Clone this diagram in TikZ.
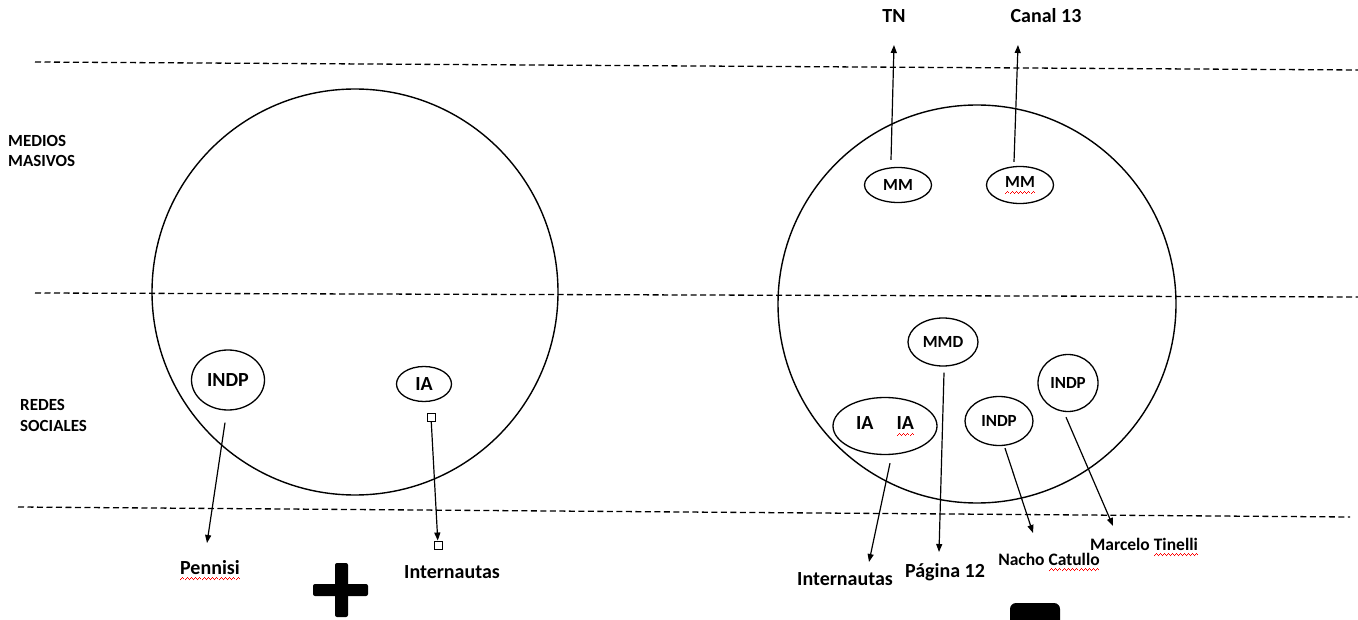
\documentclass[tikz,border=0pt]{standalone}
\usepackage{fontspec}
\setmainfont{Carlito}
\usetikzlibrary{shapes.geometric,arrows.meta}
\newcommand\wv{\rule[-6.4pt]{1pt}{1pt}\rule[-5.4pt]{1pt}{1pt}\rule[-4.4pt]{1pt}{1pt}\rule[-5.4pt]{1pt}{1pt}}
\newcommand\wavy[1]{\setbox0\hbox{#1}\rlap{\textcolor{red}{\hbox to\wd0{\xleaders\hbox{\wv}\hfil}}}\box0}
\tikzset{
  ell/.style={draw, ellipse, inner sep=0pt, line width=1.3pt, font=\bfseries\fontsize{17}{20}\selectfont},
  lbl/.style={inner sep=0pt, anchor=base, font=\bfseries\fontsize{20}{24}\selectfont},
  arr/.style={line width=1.2pt, -{Triangle[length=8pt,width=6pt]}},
  dline/.style={line width=1.3pt, dash pattern=on 6pt off 3.5pt},
  sq/.style={draw, fill=white, line width=0.9pt, minimum size=8pt, inner sep=0pt}
}
\begin{document}
\begin{tikzpicture}[x=1pt,y=-1pt]
	\useasboundingbox (0,0) rectangle (1358,620);
	\clip (0,0) rectangle (1358,620);
	% niveles
	\draw[dline] (35,62) -- (1358,70);
	\draw[dline] (35,293) -- (1358,297);
	\draw[dline] (18,507) -- (1350,517);
	\node[lbl, anchor=north west, align=left, font=\bfseries\fontsize{17}{20}\selectfont] (medios) at (8,135) {MEDIOS\\MASIVOS};
	\node[lbl, anchor=north west, align=left, font=\bfseries\fontsize{17}{21}\selectfont] (redes) at (20,399) {REDES\\SOCIALES};
	% antes
	\draw[line width=1.4pt] (355,292) circle (203);
	\node[ell, minimum width=73pt, minimum height=60pt, font=\bfseries\fontsize{20}{24}\selectfont] (indpL) at (228,380) {INDP};
	\node[ell, minimum width=55pt, minimum height=35pt, font=\bfseries\fontsize{20}{24}\selectfont] (iaL) at (424,384) {IA};
	\node[sq] (sqa) at (431,417) {};
	\node[sq] (sqb) at (438,545) {};
	\node[lbl] (pennisi) at (210,574) {\wavy{Pennisi}};
	\node[lbl] (internautasL) at (452,578) {Internautas};
	\draw[arr] ([shift={(-3,12)}]indpL.south) -- ([shift={(-3,-31)}]pennisi.base);
	\draw[arr] (sqa) -- (sqb);
	\fill[rounded corners=2pt] (313,584) rectangle (368,596);
	\fill[rounded corners=2pt] (335,563) rectangle (348,617);
	% ahora
	\draw[line width=1.4pt] (977,304) circle (199);
	\node[ell, minimum width=67pt, minimum height=35pt] (mm1) at (898,185) {MM};
	\node[ell, minimum width=67pt, minimum height=37pt] (mm2) at (1020,185) {\wavy{MM}};
	\node[ell, minimum width=70pt, minimum height=48pt] (mmd) at (943,342) {MMD};
	\node[ell, minimum width=104pt, minimum height=57pt, font=\bfseries\fontsize{20}{24}\selectfont] (iaia) at (885,426) {IA\hspace{23pt}\wavy{IA}};
	\node[ell, minimum width=68pt, minimum height=49pt] (indpM) at (999,421) {INDP};
	\node[ell, minimum width=60pt, minimum height=57pt] (indpR) at (1068,383) {INDP};
	\node[lbl] (tn) at (894,23) {TN};
	\node[lbl] (canal) at (1046,23) {Canal 13};
	\node[lbl] (internautasR) at (845,585) {Internautas};
	\node[lbl] (pagina) at (945,577) {Página 12};
	\node[lbl, font=\bfseries\fontsize{17.5}{21}\selectfont] (nacho) at (1049,565) {Nacho \wavy{Catullo}};
	\node[lbl, font=\bfseries\fontsize{17.5}{21}\selectfont] (marcelo) at (1144,550) {Marcelo \wavy{Tinelli}};
	\draw[arr] ([shift={(-7,-7)}]mm1.north) -- ([shift={(0,22)}]tn.base);
	\draw[arr] ([shift={(-6,-4)}]mm2.north) -- ([shift={(-28,22)}]canal.base);
	\draw[arr] ([shift={(5,8)}]iaia.south) -- ([shift={(24,-23)}]internautasR.base);
	\draw[arr] ([shift={(1,6)}]mmd.south) -- ([shift={(-6,-25)}]pagina.base);
	\draw[arr] ([shift={(6,2)}]indpM.south) -- ([shift={(-16,-32)}]nacho.base);
	\draw[arr] ([shift={(-2,5)}]indpR.south) -- ([shift={(-31,-24)}]marcelo.base);
	\fill[rounded corners=6pt] (1010,603) rectangle (1060,640);
\end{tikzpicture}
\end{document}
